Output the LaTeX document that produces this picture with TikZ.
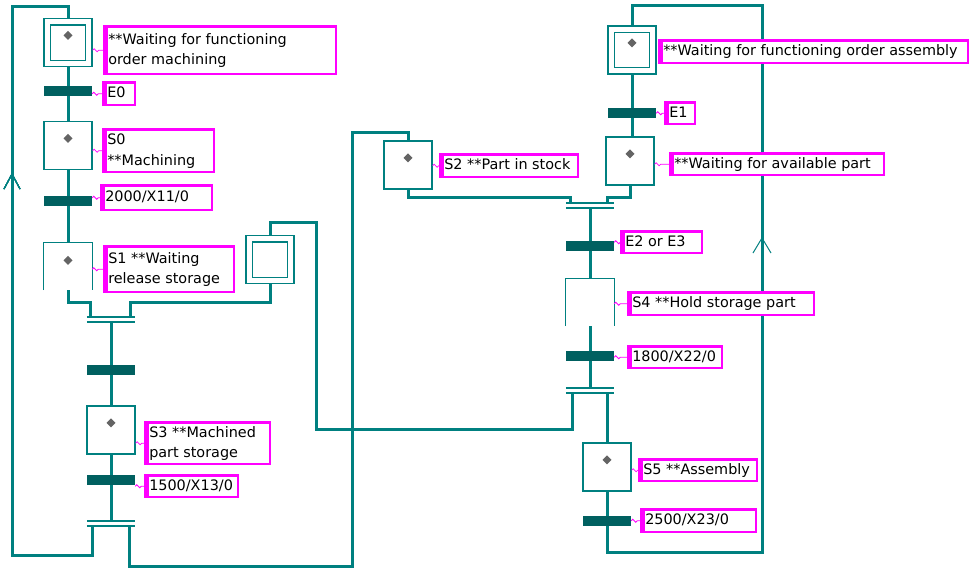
\documentclass[tikz,border=0pt]{standalone}
\usepackage{fontspec}
\setmainfont{DejaVu Sans}
\definecolor{linkteal}{RGB}{0,128,128}
\definecolor{bardark}{RGB}{0,96,96}
\definecolor{dotgray}{RGB}{100,100,100}
\definecolor{lblmag}{RGB}{255,0,255}
\pgfdeclarelayer{background}
\pgfsetlayers{background,main}
% comment box: name, x1, y1, x2, y2 (outer edges, px), text lines
\newcommand\glabel[6]{%
  \pgfmathsetmacro\glW{#4-#2-2.5}%
  \pgfmathsetmacro\glH{#5-#3-2.5}%
  \pgfmathsetmacro\glT{#4-#2-10}%
  \node[lbl, anchor=north west, minimum width=\glW pt, minimum height=\glH pt] (#1) at (#2+1.25,#3+1.25)
    {\makebox[\glT pt][l]{\begin{tabular}{@{}l@{}}#6\end{tabular}}};}
% small grey marker near the top of a step
\newcommand\stepdot[1]{\fill[dotgray] ([yshift=-13pt]#1.north) -- ++(4.5,4.5) -- ++(-4.5,4.5) -- ++(-4.5,-4.5) -- cycle;}
% wavy tie from an element to its comment box
\newcommand\squig[2]{\draw[squigline] (#1.east |- #2.west) sin ++(1.5,-1.5) cos ++(1.5,1.5) sin ++(1.5,1.5) cos ++(1.5,-1.5) -- (#2.west);}
\begin{document}
\begin{tikzpicture}[x=1pt,y=-1pt,
  link/.style={draw=linkteal, line width=3pt},
  stepbox/.style={draw=linkteal, line width=1.3pt, fill=white, rectangle, minimum width=48pt, minimum height=48pt, inner sep=0pt},
  openstep/.style={rectangle, minimum width=48pt, minimum height=47pt, inner sep=0pt},
  tbar/.style={fill=bardark, rectangle, minimum width=48pt, minimum height=10pt, inner sep=0pt},
  syncbar/.style={rectangle, minimum width=48pt, minimum height=5pt, inner sep=0pt},
  syncline/.style={draw=linkteal, line width=1.5pt},
  stepline/.style={draw=linkteal, line width=1.3pt},
  chevron/.style={draw=linkteal, line width=1pt},
  squigline/.style={draw=lblmag, line width=0.8pt},
  lbl/.style={draw=lblmag, line width=2.5pt, fill=white, rectangle, inner sep=0pt,
    font=\fontsize{14.4}{20.5}\selectfont,
    path picture={\fill[lblmag] (path picture bounding box.north west) rectangle ([xshift=3.5pt]path picture bounding box.south west);}}]
\useasboundingbox (0,0) rectangle (970,568);
\begin{pgfonlayer}{background}
  \fill[white] (0,0) rectangle (970,568);
\end{pgfonlayer}

% ---- machining sequence ----
\node[stepbox] (i0) at (68,42.5) {};
\node[tbar] (t0) at (68,91) {};
\node[stepbox] (s0) at (68,145.5) {};
\node[tbar] (t1) at (68,201) {};
\node[openstep] (s1) at (68,266.5) {};
\node[stepbox] (i1) at (270,259.5) {};
\node[syncbar] (c1) at (111,319.5) {};
\node[tbar] (t2) at (111,370) {};
\node[stepbox] (s3) at (111,430) {};
\node[tbar] (t3) at (111,480) {};
\node[syncbar] (d1) at (111,523.5) {};

% ---- assembly sequence ----
\node[stepbox] (s2) at (408,165) {};
\node[stepbox] (i2) at (632,50) {};
\node[tbar] (t7) at (632,113) {};
\node[stepbox] (s6) at (630,161) {};
\node[syncbar] (c2) at (590,205.5) {};
\node[tbar] (t4) at (590,246) {};
\node[openstep] (s4) at (590,302.5) {};
\node[tbar] (t5) at (590,356) {};
\node[syncbar] (d2) at (590,390.5) {};
\node[stepbox] (s5) at (607,467) {};
\node[tbar] (t6) at (607,521) {};

% corners of the return links
\coordinate (lb) at (12,555);  \coordinate (lt) at (12,6);
\coordinate (mb) at (352,566); \coordinate (mt) at (352,132);
\coordinate (kb) at (316,429); \coordinate (kt) at (316,222);
\coordinate (rb) at (762,552); \coordinate (rt) at (762,5);
\coordinate (la) at (12,174);  \coordinate (ra) at (762,238);

\begin{pgfonlayer}{background}
  \draw[link] (i0.south) -- (s0.north);
  \draw[link] (s0.south) -- (s1.north);
  \draw[link] (s1.south) -- ++(0,12) -| ([xshift=-21pt]c1.north);
  \draw[link] (i1.south) -- ++(0,18) -| ([xshift=19pt]c1.north);
  \draw[link] (c1.south) -- (s3.north);
  \draw[link] (s3.south) -- (d1.north);
  \draw[link] ([xshift=-19pt]d1.south) |- (lb) -- (lt) -| (i0.north);
  \draw[link] ([xshift=18pt]d1.south) |- (mb) -- (mt) -| (s2.north);
  \draw[link] (s2.south) -- ++(0,8) -| ([xshift=-20pt]c2.north);
  \draw[link] (s6.south) -- ++(0,12) -| ([xshift=17pt]c2.north);
  \draw[link] (i2.south) -- (i2.south |- s6.north);
  \draw[link] (c2.south) -- (s4.north);
  \draw[link] (s4.south) -- (d2.north);
  \draw[link] ([xshift=-18pt]d2.south) |- (kb) -- (kt) -| (i1.north);
  \draw[link] ([xshift=17pt]d2.south) -- ([xshift=17pt]d2.south |- s5.north);
  \draw[link] (s5.south) |- (rb) -- (rt) -| (i2.north);
\end{pgfonlayer}

% initial steps: inner square
\foreach \n in {i0,i1,i2}
  \draw[stepline] ([shift={(7,-7)}]\n.south west) rectangle ([shift={(-7,7)}]\n.north east);
% steps drawn open at the bottom
\foreach \n in {s1,s4}
  \draw[stepline] (\n.south west) -- (\n.north west) -- (\n.north east) -- (\n.south east);
% synchronisation double lines
\foreach \n in {c1,d1,c2,d2}
  \draw[syncline] (\n.north west) -- (\n.north east) (\n.south west) -- (\n.south east);
% active markers
\foreach \n in {i0,s0,s1,s3,s2,i2,s6,s5}
  \stepdot{\n}
% direction marks on the return links
\draw[chevron] ([shift={(-8,15)}]la) -- (la) -- ([shift={(8,15)}]la);
\draw[chevron] ([shift={(-9,15)}]ra) -- (ra) -- ([shift={(9,15)}]ra);

% comments
\glabel{li0}{102}{24}{336}{74}{**Waiting for functioning\\order machining}
\glabel{lt0}{101}{80}{135}{105}{E0}
\glabel{ls0}{101}{127}{214}{172}{S0\\{}**Machining}
\glabel{lt1}{99}{183}{212}{210}{2000/X11/0}
\glabel{ls1}{102}{244}{234}{292}{S1 **Waiting\\release storage}
\glabel{ls3}{143}{420}{270}{464}{S3 **Machined\\part storage}
\glabel{lt3}{143}{473}{238}{497}{1500/X13/0}
\glabel{ls2}{438}{152}{578}{177}{S2 **Part in stock}
\glabel{li2}{657}{38}{968}{63}{**Waiting for functioning order assembly}
\glabel{lt7}{663}{100}{695}{124}{E1}
\glabel{ls6}{668}{151}{884}{175}{**Waiting for available part}
\glabel{lt4}{619}{229}{702}{253}{E2 or E3}
\glabel{ls4}{626}{290}{814}{315}{S4 **Hold storage part}
\glabel{lt5}{626}{344}{722}{368}{1800/X22/0}
\glabel{ls5}{637}{457}{757}{481}{S5 **Assembly}
\glabel{lt6}{639}{507}{756}{532}{2500/X23/0}

\squig{i0}{li0}
\squig{t0}{lt0}
\squig{s0}{ls0}
\squig{t1}{lt1}
\squig{s1}{ls1}
\squig{s3}{ls3}
\squig{t3}{lt3}
\squig{s2}{ls2}
\squig{t7}{lt7}
\squig{s6}{ls6}
\squig{t4}{lt4}
\squig{s4}{ls4}
\squig{t5}{lt5}
\squig{s5}{ls5}
\squig{t6}{lt6}
\end{tikzpicture}
\end{document}
